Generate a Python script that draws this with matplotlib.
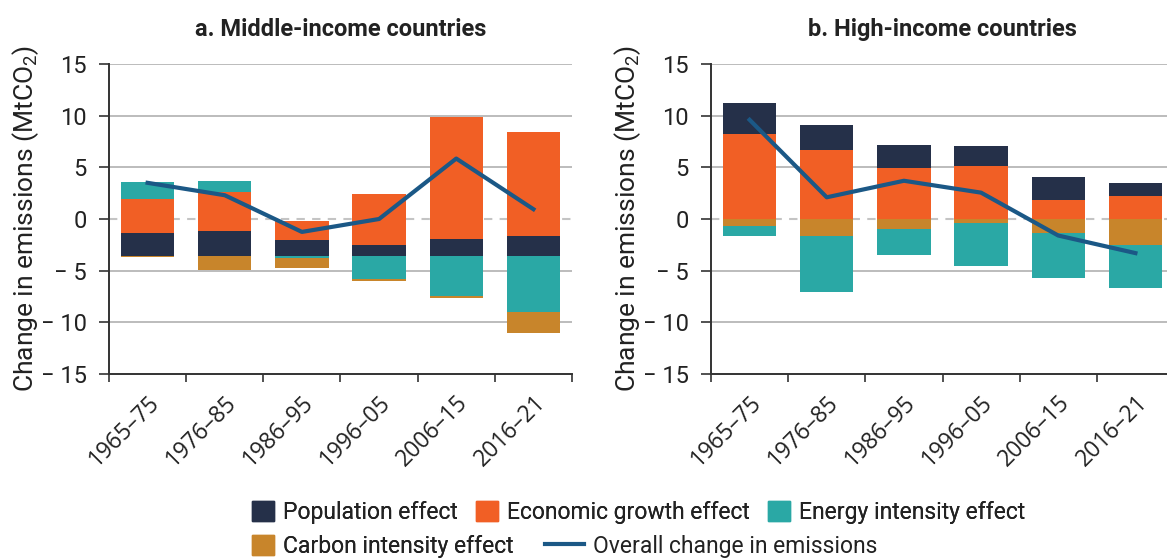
import numpy as np
import matplotlib
matplotlib.use("Agg")
import matplotlib.pyplot as plt
from matplotlib.patches import Patch
from matplotlib.lines import Line2D

plt.rcParams['font.family'] = ['Roboto', 'DejaVu Sans']
plt.rcParams['mathtext.fontset'] = 'custom'
plt.rcParams['mathtext.rm'] = 'Roboto'
plt.rcParams['mathtext.it'] = 'Roboto'

periods = ['1965–75', '1976–85', '1986–95', '1996–05', '2006–15', '2016–21']

# middle-income decomposition (stacks start from a shifted baseline)
mid_population = [2.2, 2.4, 1.55, 1.05, 1.65, 1.95]
mid_economic = [3.3, 3.8, 1.85, 4.95, 11.8, 10.05]
mid_energy = [1.65, 1.05, -0.2, -2.2, -3.85, -5.4]
mid_carbon = [-0.1, -1.35, -0.9, -0.2, -0.2, -2.0]
mid_overall = [3.5, 2.3, -1.25, 0.0, 5.85, 0.95]
mid_baseline = -3.6

# high-income decomposition
high_population = [3.0, 2.4, 2.2, 1.95, 2.2, 1.25]
high_economic = [8.25, 6.7, 4.95, 5.15, 1.85, 2.25]
high_energy = [-0.95, -5.4, -2.5, -4.15, -4.3, -4.15]
high_carbon = [-0.7, -1.65, -1.0, -0.4, -1.4, -2.5]
high_overall = [9.6, 2.1, 3.7, 2.55, -1.6, -3.3]
high_baseline = 0.0

C_POP = '#253049'
C_ECON = '#f15f25'
C_ENERGY = '#2aa8a5'
C_CARBON = '#c8852b'
C_LINE = '#1b5886'
TXT = '#222222'


def stacked(ax, series, baseline):
    x = np.arange(len(periods))
    pos = np.full(len(periods), baseline, dtype=float)
    neg = pos.copy()
    for vals, col in series:
        v = np.asarray(vals, dtype=float)
        up = np.where(v > 0, v, 0)
        dn = np.where(v < 0, v, 0)
        ax.bar(x, up, 0.69, bottom=pos, color=col, zorder=3)
        ax.bar(x, dn, 0.69, bottom=neg, color=col, zorder=3)
        pos += up
        neg += dn


def style(ax, title):
    x = np.arange(len(periods))
    ax.set_xlim(-0.5, len(periods) - 0.5)
    ax.set_ylim(-15, 15)
    ax.set_yticks([-15, -10, -5, 0, 5, 10, 15])
    ax.set_yticklabels(['− 15', '− 10', '− 5', '0', '5', '10', '15'])
    for y in [-10, -5, 5, 10, 15]:
        ax.axhline(y, color='#aaaaaa', lw=1.1, zorder=1)
    ax.axhline(0, color='#c4c4c4', lw=1.5, ls=(0, (4, 3.5)), zorder=1)
    ax.set_xticks(x)
    ax.set_xticklabels(periods, rotation=45, ha='right', rotation_mode='anchor',
                       fontsize=16.5, family=['Open Sans', 'DejaVu Sans'], color=TXT)
    ax.set_xticks(np.arange(len(periods) + 1) - 0.5, minor=True)
    ax.tick_params(axis='x', which='major', length=0, pad=12)
    ax.tick_params(axis='x', which='minor', length=6, width=1.2, color='#333333')
    ax.tick_params(axis='y', length=7, width=1.2, color='#333333', labelsize=17,
                   labelcolor=TXT, pad=9)
    for s in ['top', 'right']:
        ax.spines[s].set_visible(False)
    for s in ['left', 'bottom']:
        ax.spines[s].set_color('#333333')
        ax.spines[s].set_linewidth(1.4)
    ax.set_ylabel('Change in emissions (MtCO$_2$)', fontsize=19, color=TXT, labelpad=0)
    ax.set_title(title, fontsize=17, fontweight='bold', color=TXT, pad=20)


fig = plt.figure(figsize=(11.67, 5.58), dpi=100)
ax1 = fig.add_axes([109 / 1167, 1 - 374 / 558, 463 / 1167, 310 / 558])
ax2 = fig.add_axes([711 / 1167, 1 - 374 / 558, 463 / 1167, 310 / 558])

stacked(ax1, [(mid_population, C_POP), (mid_economic, C_ECON),
              (mid_energy, C_ENERGY), (mid_carbon, C_CARBON)], mid_baseline)
ax1.plot(np.arange(len(periods)), mid_overall, color=C_LINE, lw=3, zorder=4)
style(ax1, 'a. Middle-income countries')

stacked(ax2, [(high_economic, C_ECON), (high_population, C_POP),
              (high_carbon, C_CARBON), (high_energy, C_ENERGY)], high_baseline)
ax2.plot(np.arange(len(periods)), high_overall, color=C_LINE, lw=3, zorder=4)
style(ax2, 'b. High-income countries')

row1 = [Patch(color=C_POP, label='Population effect'),
        Patch(color=C_ECON, label='Economic growth effect'),
        Patch(color=C_ENERGY, label='Energy intensity effect')]
carbon_key = [Patch(color=C_CARBON, label='Carbon intensity effect')]
line_key = [Line2D([], [], color=C_LINE, lw=3, label='Overall change in emissions')]
common = dict(frameon=False, fontsize=16.5, handlelength=0.95, handleheight=0.95,
              handletextpad=0.4, columnspacing=0.8, borderpad=0, borderaxespad=0,
              labelcolor=TXT)
legs = [
    fig.legend(handles=row1, ncol=3, loc='center left',
               bbox_to_anchor=(252 / 1167, 1 - 512 / 558), **common),
    fig.legend(handles=carbon_key, loc='center left',
               bbox_to_anchor=(252 / 1167, 1 - 546 / 558), **common),
    fig.legend(handles=line_key, loc='center left',
               bbox_to_anchor=(545 / 1167, 1 - 546 / 558),
               **dict(common, handlelength=1.7, handletextpad=0.4)),
]
for lg in legs[:-1]:
    fig.add_artist(lg)

fig.savefig('out.png', dpi=100)
